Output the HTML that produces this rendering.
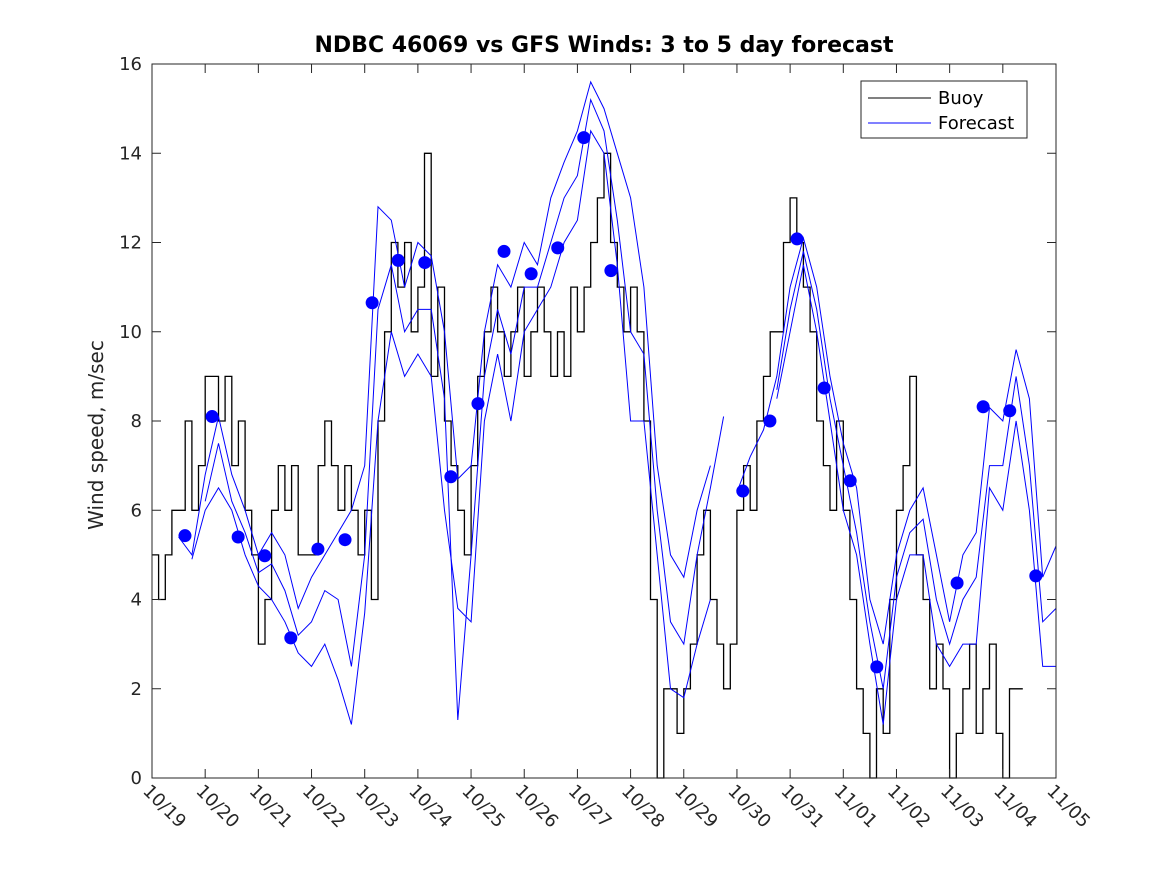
<!DOCTYPE html>
<html><head><meta charset="utf-8"><style>
body{margin:0;background:#fff;}
svg{display:block;font-family:"DejaVu Sans","Liberation Sans",sans-serif;}
</style></head><body>
<svg id="c" width="1167" height="875"></svg>
<script>
// ---- data ----
const buoyStart = 0; // day offset from 10/19
const buoyStep = 0.125; // days
const buoyVals = [
5,4,5,6,6,8,6,7,
9,9,8,9,7,8,6,5,
3,4,6,7,6,7,5,5,
5,7,8,7,6,7,6,5,
6,4,8,10,12,11,12,10,
11,14,9,11,8,7,6,5,
7,9,10,11,10,9,10,11,
9,10,11,10,9,10,9,11,
10,11,12,13,14,12,11,10,
11,10,8,4,0,2,2,1,
2,3,5,6,4,3,2,3,
6,7,6,8,9,10,10,12,
13,12,11,10,8,7,6,8,
6,4,2,1,0,2,1,4,
6,7,9,5,4,2,3,2,
0,1,2,3,1,2,3,1,
0,2,2];
const fcStart = 0.5;
const fcStep = 0.25;
const fc1 = [5.4,5.0,6.8,8.1,6.8,6.0,5.0,5.5,5.0,3.8,4.5,5.0,5.5,6.0,7.0,12.8,12.5,11.0,12.0,11.7,10.0,6.7,7.0,10.0,11.5,11.0,12.0,11.5,13.0,13.8,14.5,15.6,15.0,14.0,13.0,11.0,7.0,5.0,4.5,6.0,7.0,null,6.4,7.2,7.8,9.0,11.0,12.1,11.0,9.0,7.5,6.5,4.0,3.0,5.0,6.0,6.5,5.0,3.5,5.0,5.5,8.3,8.0,9.6,8.5,4.5,5.2];
const fc2 = [null,4.9,6.0,6.5,6.0,5.0,4.3,4.0,3.5,2.8,2.5,3.0,2.2,1.2,3.7,8.0,10.0,9.0,9.5,9.0,6.0,3.8,3.5,8.0,9.5,8.0,10.0,10.5,11.0,12.0,12.5,14.5,14.0,11.5,8.0,8.0,5.0,2.0,1.8,3.0,4.0,null,null,null,null,8.5,10.0,11.5,10.0,8.0,6.0,5.0,3.0,1.2,4.0,5.0,5.0,3.0,2.5,3.0,3.0,6.5,6.0,8.0,6.0,2.5,2.5];
const fc3 = [null,null,6.2,7.5,6.2,5.5,4.6,4.8,4.2,3.2,3.5,4.2,4.0,2.5,5.0,10.5,11.5,10.0,10.5,10.5,8.5,1.3,5.0,9.0,10.5,9.5,11.0,11.0,12.0,13.0,13.5,15.2,14.5,12.5,10.0,9.5,6.0,3.5,3.0,5.0,6.5,8.1,null,null,null,8.7,10.5,11.8,10.5,8.5,7.0,5.5,3.5,2.0,4.5,5.5,5.8,4.0,3.0,4.0,4.5,7.0,7.0,9.0,7.0,3.5,3.8];
const dotDays = [0.62,1.13,1.62,2.12,2.61,3.12,3.63,4.14,4.63,5.13,5.62,6.13,6.62,7.13,7.63,8.12,8.63,11.11,11.62,12.13,12.64,13.13,13.63,15.14,15.63,16.13,16.62];
const dotVals = [5.43,8.1,5.4,4.98,3.14,5.13,5.34,10.65,11.6,11.55,6.75,8.39,11.8,11.3,11.88,14.35,11.37,6.43,8.0,12.08,8.74,6.66,2.49,4.37,8.32,8.23,4.53];
const xTickLabels = ["10/19","10/20","10/21","10/22","10/23","10/24","10/25","10/26","10/27","10/28","10/29","10/30","10/31","11/01","11/02","11/03","11/04","11/05"];
const yTicks = [0,2,4,6,8,10,12,14,16];

// ---- geometry ----
const L=152,R=1056,T=64,B=778;
const X=d=>L+(d/17)*(R-L);
const Y=v=>B-(v/16)*(B-T);
const NS="http://www.w3.org/2000/svg";
const svg=document.getElementById('c');
function mk(tag,attrs,parent){const e=document.createElementNS(NS,tag);for(const k in attrs)e.setAttribute(k,attrs[k]);(parent||svg).appendChild(e);return e;}

const bg=mk('rect',{x:L,y:T,width:R-L,height:B-T,fill:'#fff'});



let p='';
buoyVals.forEach((v,i)=>{const x0=X(buoyStart+i*buoyStep),x1=X(buoyStart+(i+1)*buoyStep);p+=(i?'L':'M')+x0.toFixed(1)+','+Y(v).toFixed(1)+'L'+x1.toFixed(1)+','+Y(v).toFixed(1);});
const buoy=mk('path',{d:p,fill:'none',stroke:'#000','stroke-width':1.3});



[fc1,fc2,fc3].forEach((arr,k)=>{
  let d='',pen=false;
  arr.forEach((v,i)=>{if(v===null){pen=false;return;}d+=(pen?'L':'M')+X(fcStart+i*fcStep).toFixed(1)+','+Y(v).toFixed(1);pen=true;});
  const e=mk('path',{d:d,fill:'none',stroke:'#0000ff','stroke-width':1});
  
  
});
dotDays.forEach((d,i)=>{
  const c=mk('ellipse',{cx:X(d),cy:Y(dotVals[i]),rx:6.5,ry:6.5,fill:'#0000ff'});
  
  
});

const box=mk('rect',{x:L,y:T,width:R-L,height:B-T,fill:'none',stroke:'#262626','stroke-width':1});



yTicks.forEach(v=>{
  const y=Y(v);
  mk('line',{x1:L,x2:L+9,y1:y,y2:y,stroke:'#262626'});
  mk('line',{x1:R-9,x2:R,y1:y,y2:y,stroke:'#262626'});
  const t=mk('text',{x:L-10,y:y+6,'text-anchor':'end','font-size':18,fill:'#262626'});
  t.textContent=v;
  
  
});
xTickLabels.forEach((lab,i)=>{
  const x=X(i);
  mk('line',{x1:x,x2:x,y1:B,y2:B-9,stroke:'#262626'});
  mk('line',{x1:x,x2:x,y1:T,y2:T+9,stroke:'#262626'});
  const t=mk('text',{x:0,y:0,'font-size':18,fill:'#262626',transform:'translate('+(x-10)+','+(B+14)+') rotate(45)'});
  t.textContent=lab;
  
  
});

const title=mk('text',{x:(L+R)/2,y:52,'text-anchor':'middle','font-size':22,'font-weight':'bold',fill:'#000'});
title.textContent='NDBC 46069 vs GFS Winds: 3 to 5 day forecast';


const yl=mk('text',{x:0,y:0,'text-anchor':'middle','font-size':20,fill:'#262626',transform:'translate(103,435) rotate(-90)'});
yl.textContent='Wind speed, m/sec';



const lg=mk('g',{});


mk('rect',{x:861,y:81,width:166,height:57,fill:'#fff',stroke:'#262626'},lg);
mk('line',{x1:868,x2:931,y1:98,y2:98,stroke:'#000'},lg);
mk('line',{x1:868,x2:931,y1:123,y2:123,stroke:'#0000ff'},lg);
const t1=mk('text',{x:938,y:104,'font-size':18,fill:'#000'},lg);t1.textContent='Buoy';


const t2=mk('text',{x:938,y:129,'font-size':18,fill:'#000'},lg);t2.textContent='Forecast';


</script>
</body></html>
